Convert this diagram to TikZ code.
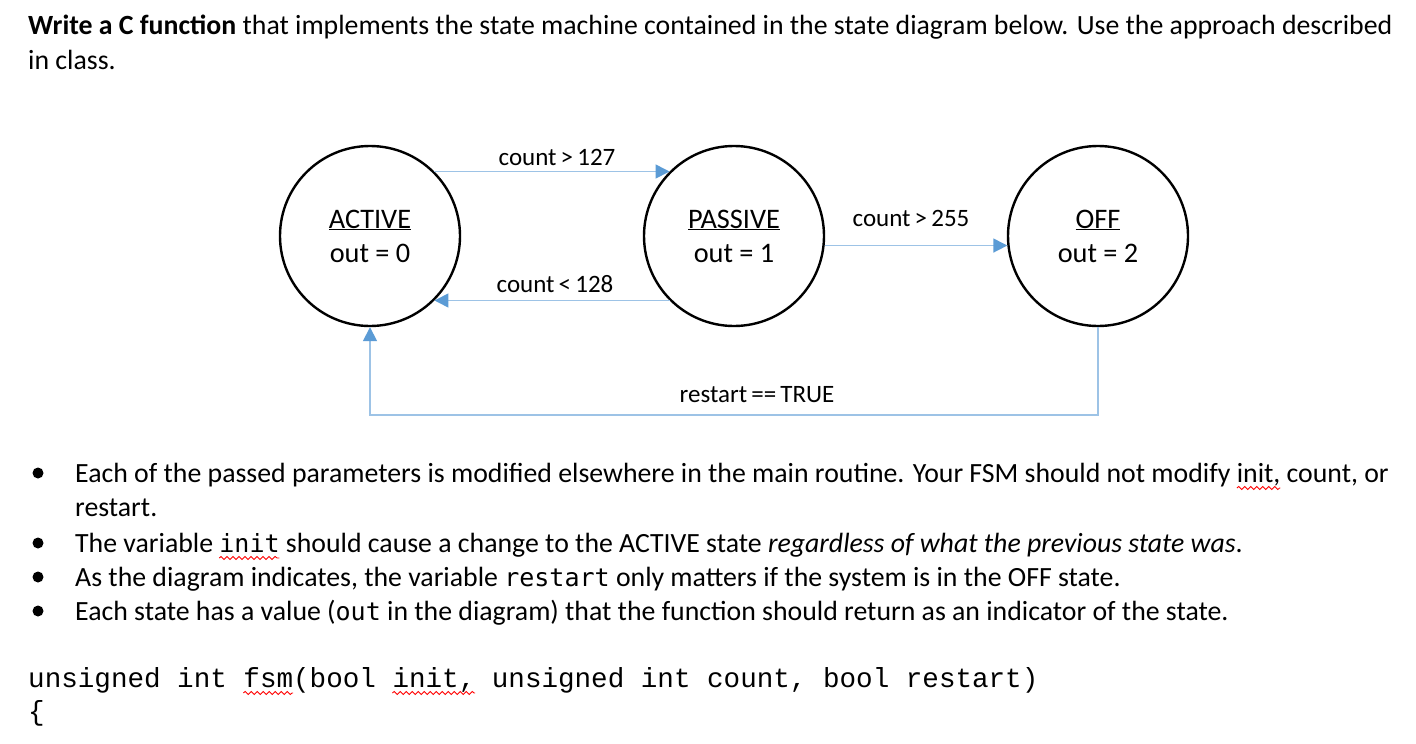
\documentclass[tikz,border=0pt]{standalone}
\usepackage{fontspec}
\setmainfont{Carlito}
\newfontfamily\codefont{Liberation Mono}
\newfontfamily\consfont{DejaVu Sans Mono}[Scale=0.9]
\usetikzlibrary{arrows.meta,positioning,calc,decorations.pathmorphing}

\definecolor{linkblue}{HTML}{9DC3E6}
\definecolor{tipblue}{HTML}{5B9BD5}

\newcommand\bodyfont{\fontsize{27.8}{33}\selectfont}
\newcommand\codesize{\fontsize{27.6}{33}\selectfont}
\newlength\prewd
\newlength\wordwd
% red spell-check wave: node, text before the word, the word
\newcommand\spellwave[3]{%
  \pgfinterruptpicture
    \setbox0\hbox{#2}\global\prewd=\wd0
    \setbox0\hbox{#3}\global\wordwd=\wd0
  \endpgfinterruptpicture
  \draw[wave] ($(#1.base west)+(\prewd,-6pt)$) -- ++(\wordwd,0pt);}

\begin{document}
\begin{tikzpicture}[x=1pt,y=-1pt,
  state/.style={circle,draw,line width=2.4pt,minimum size=180pt,inner sep=0pt,align=center,
    font=\fontsize{28.3}{34}\selectfont},
  link/.style={draw=linkblue,line width=1.6pt,-{Triangle[length=14pt,width=14pt,color=tipblue]}},
  lbl/.style={font=\fontsize{25}{28}\selectfont,inner sep=0pt,anchor=base},
  txt/.style={font=\bodyfont,inner sep=0pt,anchor=base west},
  code/.style={font=\codefont\codesize,inner sep=0pt,anchor=base west},
  bullet/.style={circle,fill,inner sep=0pt,minimum size=11pt},
  wave/.style={red,line width=0.9pt,decorate,decoration={snake,segment length=6pt,amplitude=1.5pt}}]
\useasboundingbox (0,0) rectangle (1416,744);

% task text
\node[txt] (t1) at (28,34) {\textbf{Write a C function} that implements the state machine contained in the state diagram below. Use the approach described};
\node[txt] (t2) at (28,69) {in class.};

% states
\node[state] (active) at (370,236) {\underline{ACTIVE}\\out = 0};
\node[state] (passive) at (734,236) {\underline{PASSIVE}\\out = 1};
\node[state] (off) at (1098,236) {\underline{OFF}\\out = 2};

% transitions
\draw[link] (active.45) -- (passive.135);
\draw[link] (passive.-135) -- (active.-45);
\draw[link] (passive.-6) -- (off.-174);
\draw[link] (off.south) -- ++(0,88) -| (active.south);
\node[lbl] (l1) at (557,165) {count\,>\,127};
\node[lbl] (l2) at (555,292) {count\,<\,128};
\node[lbl] (l3) at (911,226) {count\,>\,255};
\node[lbl] (l4) at (757,402) {restart\,==\,TRUE};

% notes
\foreach \y in {473,543,577,611}
  \node[bullet] at (38,\y) {};
\node[txt] (b1) at (75,482) {Each of the passed parameters is modified elsewhere in the main routine. Your FSM should not modify init, count, or};
\node[txt] (b1b) at (75,516) {restart.};
\node[txt] (b2) at (75,552) {The variable {\consfont init} should cause a change to the ACTIVE state \textit{regardless of what the previous state was}.};
\node[txt] (b3) at (75,586) {As the diagram indicates, the variable {\consfont restart} only matters if the system is in the OFF state.};
\node[txt] (b4) at (75,620) {Each state has a value ({\consfont out} in the diagram) that the function should return as an indicator of the state.};

% code
\node[code] (c1) at (28,687) {unsigned int fsm(bool init, unsigned int count, bool restart)};
\node[code] (c2) at (28,720) {\{};

% spell-check marks
\spellwave{b1}{\bodyfont Each of the passed parameters is modified elsewhere in the main routine. Your FSM should not modify }{\bodyfont init,}
\spellwave{b2}{\bodyfont The variable }{\bodyfont\consfont init}
\spellwave{c1}{\codefont\codesize unsigned int }{\codefont\codesize fsm}
\spellwave{c1}{\codefont\codesize unsigned int fsm(bool }{\codefont\codesize init,}
\end{tikzpicture}
\end{document}
